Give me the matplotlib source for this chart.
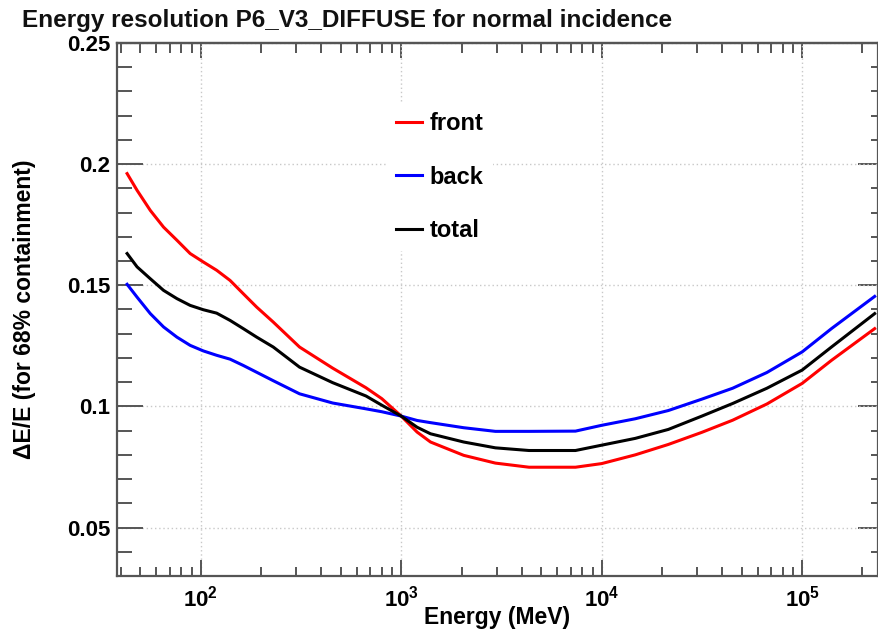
import math
import matplotlib
matplotlib.use("Agg")
import matplotlib.pyplot as plt
from matplotlib.ticker import LogLocator, MultipleLocator, FuncFormatter, NullFormatter

plt.rcParams['font.family'] = ['Liberation Sans', 'DejaVu Sans']
plt.rcParams['font.weight'] = 'bold'
plt.rcParams['axes.labelweight'] = 'bold'
plt.rcParams['mathtext.fontset'] = 'custom'
plt.rcParams['mathtext.bf'] = 'Liberation Sans:bold'
plt.rcParams['mathtext.rm'] = 'Liberation Sans:bold'

# energy (MeV) and resolution dE/E
energy = [42.9, 48.1, 56.0, 65.2, 76.0, 88.5, 103, 120, 140, 163, 190, 230,
          311, 455, 667, 800, 1000, 1200, 1400, 2050, 2950, 4340, 7400,
          10000, 14700, 21500, 31600, 45000, 66700, 100000, 140000, 230000]
front = [0.1961, 0.1892, 0.1809, 0.1740, 0.1686, 0.1631, 0.1596, 0.1562,
         0.1520, 0.1465, 0.1410, 0.1348, 0.1245, 0.1158, 0.1077, 0.1032,
         0.0960, 0.0894, 0.0853, 0.0798, 0.0766, 0.0749, 0.0749, 0.0764,
         0.0800, 0.0843, 0.0893, 0.0943, 0.1010, 0.1095, 0.1190, 0.1321]
back = [0.1504, 0.1451, 0.1383, 0.1328, 0.1286, 0.1252, 0.1229, 0.1211,
        0.1195, 0.1169, 0.1141, 0.1106, 0.1052, 0.1014, 0.0990, 0.0978,
        0.0960, 0.0942, 0.0933, 0.0912, 0.0897, 0.0897, 0.0898, 0.0922,
        0.0949, 0.0983, 0.1030, 0.1075, 0.1140, 0.1225, 0.1321, 0.1454]
total = [0.1631, 0.1576, 0.1527, 0.1479, 0.1445, 0.1417, 0.1399, 0.1385,
         0.1355, 0.1321, 0.1286, 0.1245, 0.1162, 0.1098, 0.1043, 0.1005,
         0.0960, 0.0914, 0.0887, 0.0853, 0.0829, 0.0818, 0.0818, 0.0840,
         0.0868, 0.0905, 0.0960, 0.1012, 0.1075, 0.1150, 0.1245, 0.1383]

fig = plt.figure(figsize=(8.79, 6.32), dpi=100)
ax = fig.add_axes([117/879, 1-576/632, 761/879, 533/632])

ax.plot(energy, front, color='#ff0000', lw=2.2, label='front')
ax.plot(energy, back, color='#0000ff', lw=2.2, label='back')
ax.plot(energy, total, color='black', lw=2.2, label='total')

ax.set_xscale('log')
ax.set_xlim(38.2, 2.39e5)
ax.set_ylim(0.03, 0.25)

ax.xaxis.set_major_locator(LogLocator(base=10, numticks=10))
ax.xaxis.set_minor_locator(LogLocator(base=10, subs=range(2, 10), numticks=20))
ax.xaxis.set_major_formatter(FuncFormatter(lambda v, p: r'$\mathbf{10^{%d}}$' % round(math.log10(v))))
ax.xaxis.set_minor_formatter(NullFormatter())
ax.yaxis.set_major_locator(MultipleLocator(0.05))
ax.yaxis.set_minor_locator(MultipleLocator(0.01))
ax.yaxis.set_major_formatter(FuncFormatter(lambda v, p: ('%g' % round(v, 3))))

tc = '#555555'
ax.tick_params(axis='y', which='major', direction='in', length=19, width=1.4, color=tc, labelsize=16, pad=5)
ax.tick_params(axis='y', which='minor', direction='in', length=11, width=1.4, color=tc)
ax.tick_params(axis='x', which='major', direction='in', length=11.5, width=1.4, color=tc, labelsize=16, pad=7)
ax.tick_params(axis='x', which='minor', direction='in', length=6.5, width=1.4, color=tc)

for s in ax.spines.values():
    s.set_color('#555555')
    s.set_linewidth(1.6)

# top and right ticks with their own lengths
top = ax.secondary_xaxis('top')
top.xaxis.set_major_locator(LogLocator(base=10, numticks=10))
top.xaxis.set_minor_locator(LogLocator(base=10, subs=range(2, 10), numticks=20))
top.xaxis.set_major_formatter(NullFormatter())
top.xaxis.set_minor_formatter(NullFormatter())
top.tick_params(which='major', direction='in', length=11, width=1.4, color=tc)
top.tick_params(which='minor', direction='in', length=7, width=1.4, color=tc)
top.spines['top'].set_color('#555555')
top.spines['top'].set_linewidth(1.6)

right = ax.secondary_yaxis('right')
right.yaxis.set_major_locator(MultipleLocator(0.05))
right.yaxis.set_minor_locator(MultipleLocator(0.01))
right.yaxis.set_major_formatter(NullFormatter())
right.tick_params(which='major', direction='in', length=14.5, width=1.4, color=tc)
right.tick_params(which='minor', direction='in', length=5, width=1.4, color=tc)

ax.grid(True, which='major', color='#c8c8c8', linestyle=(0, (1, 2)), linewidth=1.0)

leg = ax.legend(loc='upper left', bbox_to_anchor=((387-117)/761, (576-103)/533),
                frameon=True, fontsize=17, handlelength=1.1, handletextpad=0.3,
                labelspacing=1.28, borderpad=0.4, borderaxespad=0)
leg.get_frame().set_edgecolor('none')
leg.get_frame().set_facecolor('white')
leg.get_frame().set_alpha(1)

ax.set_xlabel('Energy (MeV)', fontsize=16.5, labelpad=-4)
ax.set_ylabel('ΔE/E (for 68% containment)', fontsize=16.5, labelpad=22)
fig.text(22/879, 1-20/632, 'Energy resolution P6_V3_DIFFUSE for normal incidence',
         fontsize=17.5, fontweight='bold', ha='left', va='center', color='#111111')

fig.savefig('out.png', dpi=100)
